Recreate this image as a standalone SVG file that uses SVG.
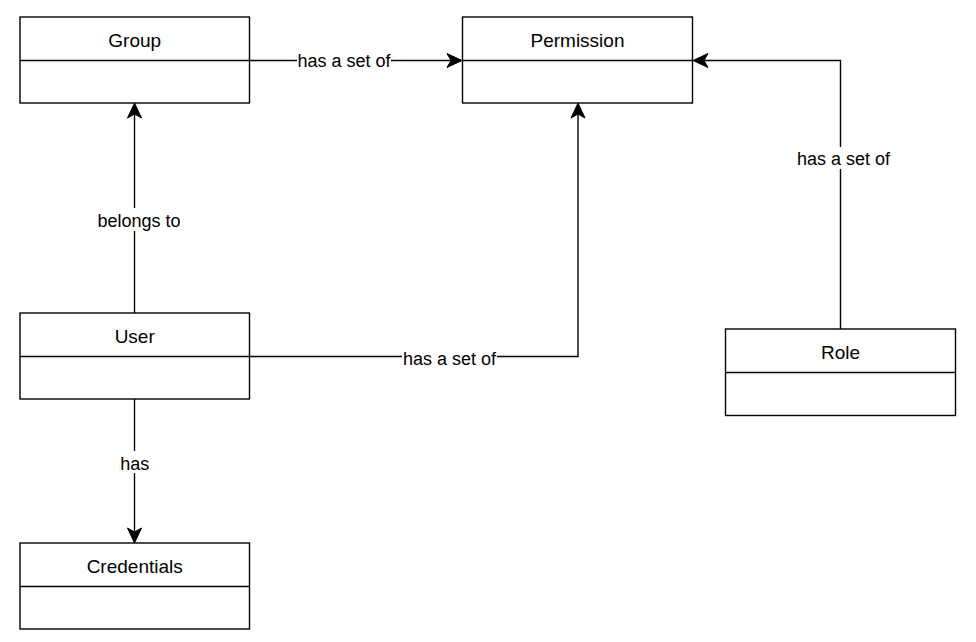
<svg xmlns="http://www.w3.org/2000/svg" width="976" height="642" viewBox="0 0 976 642">
<style>
.box{fill:#ffffff;stroke:#000000;stroke-width:1.4}
.div{stroke:#000000;stroke-width:1.4;fill:none}
.title{font-family:"Liberation Sans",Arial,Helvetica,sans-serif;font-size:19px;fill:#000000;text-anchor:middle}
.edge{fill:none;stroke:#000000;stroke-width:1.4}
.lbl{font-family:"Liberation Sans",Arial,Helvetica,sans-serif;font-size:18px;fill:#000000;text-anchor:middle}
.lblbg{fill:#ffffff;stroke:none}
</style>
<defs>
<marker id="arr" markerUnits="userSpaceOnUse" markerWidth="20" markerHeight="20" refX="4" refY="7" orient="auto" overflow="visible">
<path d="M15,7 L0,0 L4,7 L0,14 Z" fill="#000000" stroke="#000000" stroke-width="1" stroke-linejoin="miter"/>
</marker>
</defs>
<rect width="976" height="642" fill="#ffffff"/>
<g id="connectors">
<path class="edge" d="M249.5,60.5 H451" marker-end="url(#arr)"/>
<path class="edge" d="M840.5,329 V60.5 H704" marker-end="url(#arr)"/>
<path class="edge" d="M134.5,313 V114" marker-end="url(#arr)"/>
<path class="edge" d="M249.5,356.5 H578 V114" marker-end="url(#arr)"/>
<path class="edge" d="M134.5,399 V532" marker-end="url(#arr)"/>
<rect class="lblbg" x="297" y="50" width="94" height="21"/>
<text class="lbl" x="344" y="67">has a set of</text>
<rect class="lblbg" x="797" y="147" width="93" height="22"/>
<text class="lbl" x="843.5" y="164.5">has a set of</text>
<rect class="lblbg" x="97" y="208" width="84" height="23"/>
<text class="lbl" x="139" y="226.5">belongs to</text>
<rect class="lblbg" x="402" y="346" width="95" height="21"/>
<text class="lbl" x="449.5" y="364.5">has a set of</text>
<rect class="lblbg" x="119" y="451" width="31" height="22"/>
<text class="lbl" x="134.8" y="470">has</text>
</g>
<g id="node-group">
<rect class="box" x="20" y="17" width="229.5" height="86"/>
<line class="div" x1="20" y1="60.5" x2="249.5" y2="60.5"/>
<text class="title" x="134.7" y="46.5">Group</text>
</g>
<g id="node-permission">
<rect class="box" x="462.5" y="17" width="230" height="86"/>
<line class="div" x1="462.5" y1="60.5" x2="692.5" y2="60.5"/>
<text class="title" x="577.5" y="46.5">Permission</text>
</g>
<g id="node-user">
<rect class="box" x="20" y="313" width="229.5" height="86"/>
<line class="div" x1="20" y1="356.5" x2="249.5" y2="356.5"/>
<text class="title" x="134.7" y="342.5">User</text>
</g>
<g id="node-role">
<rect class="box" x="725.5" y="329" width="230" height="86.5"/>
<line class="div" x1="725.5" y1="372.5" x2="955.5" y2="372.5"/>
<text class="title" x="840.5" y="358.5">Role</text>
</g>
<g id="node-credentials">
<rect class="box" x="20" y="543" width="229.5" height="86"/>
<line class="div" x1="20" y1="586.5" x2="249.5" y2="586.5"/>
<text class="title" x="134.7" y="572.5">Credentials</text>
</g>
</svg>
